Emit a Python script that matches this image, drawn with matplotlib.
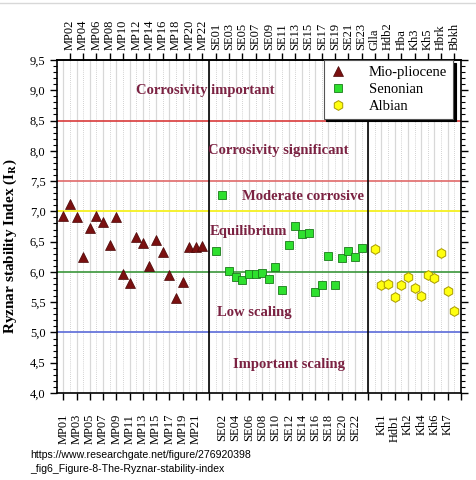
import numpy as np
import matplotlib
matplotlib.use("Agg")
import matplotlib.pyplot as plt
from matplotlib.ticker import MultipleLocator, FuncFormatter
from matplotlib.lines import Line2D

plt.rcParams['font.family'] = ['Liberation Serif', 'DejaVu Serif']
plt.rcParams['mathtext.fontset'] = 'stix'

# --- data ---
mp_labels = ["MP%02d" % i for i in range(1, 23)]
mp_values = [6.92, 7.12, 6.91, 6.25, 6.73, 6.93, 6.82, 6.44, 6.90, 5.97, 5.81,
             6.58, 6.48, 6.10, 6.52, 6.33, 5.95, 5.57, 5.83, 6.41, 6.41, 6.43]

se_labels = ["SE%02d" % i for i in range(1, 24)]
se_values = [6.34, 7.27, 6.02, 5.91, 5.87, 5.97, 5.96, 5.99, 5.88, 6.08, 5.70,
             6.45, 6.76, 6.63, 6.65, 5.66, 5.78, 6.27, 5.79, 6.23, 6.34, 6.25, 6.39]

alb_labels = ["Glla", "Kh1", "Hdb2", "Hdb1", "Hba", "Kh2", "Kh3", "Kh4",
              "Kh5", "Kh6", "Hbrk", "Kh7", "Bbkh"]
alb_values = [6.38, 5.79, 5.80, 5.59, 5.78, 5.92, 5.73, 5.60, 5.95, 5.90,
              6.31, 5.68, 5.36]

limits = [8.5, 7.5, 7.0, 6.0, 5.0]
limit_colors = ["#d93b3b", "#e06a6a", "#f5f020", "#3a963a", "#5a6ad8"]

zones = ["Corrosivity important", "Corrosivity significant", "Moderate corrosive",
         "Equilibrium", "Low scaling", "Important scaling"]

# positions: one empty slot between groups
all_labels = mp_labels + [""] + se_labels + [""] + alb_labels + [""]
pos = np.arange(1, len(all_labels) + 1)
mp_x = pos[:22]
se_x = pos[23:46]
alb_x = pos[47:60]

fig = plt.figure(figsize=(4.77, 4.80), dpi=100)
ax = fig.add_axes([57.3 / 477, 1 - 393 / 480, (461 - 57.3) / 477, 333 / 480])

# vertical grid
for p in pos:
    if p % 2 == 1:
        ax.axvline(p, color="#d8d8d8", lw=0.9, zorder=0)
    else:
        ax.axvline(p, color="#c4c4c4", lw=0.6, ls=(0, (1, 1.5)), zorder=0)

for v, c in zip(limits, limit_colors):
    ax.axhline(v, color=c, lw=1.3 if v == 7.0 else 1.2, zorder=1)

ax.axvline(23, color="black", lw=1.2, zorder=2)
ax.axvline(47, color="black", lw=1.2, zorder=2)

ax.plot(mp_x, mp_values, ls="none", marker="^", ms=6.5, color="#7a1010",
        mec="#4a0808", mew=0.5, label="Mio-pliocene", zorder=4)
ax.plot(se_x, se_values, ls="none", marker="s", ms=5.5, color="#2ee02e",
        mec="#1a7a1a", mew=0.6, label="Senonian", zorder=4)
ax.plot(alb_x, alb_values, ls="none", marker="h", ms=7, color="#ffff10",
        mec="#a89a00", mew=0.7, label="Albian", zorder=4)

txt_col = "#7b2242"
txt_pos = [(22.4, 9.0), (33.5, 8.0), (37.2, 7.25), (29.0, 6.67), (29.8, 5.33), (35.0, 4.47)]
for t, (x, y) in zip(zones, txt_pos):
    ax.text(x, y, t, ha="center", va="center", fontsize=10.5, fontweight="bold",
            color=txt_col, zorder=3)

ax.set_xlim(0.1, 61)
ax.set_ylim(4.0, 9.5)

ax.set_xticks(pos[::2], labels=all_labels[::2], rotation=90, fontsize=9)
ax.tick_params(axis="x", direction="out", length=5, width=1, pad=10)
sec = ax.secondary_xaxis("top")
sec.set_xticks(pos[1::2], labels=all_labels[1::2], rotation=90, fontsize=9)
sec.tick_params(axis="x", direction="out", length=5, width=1, pad=2)

ax.yaxis.set_major_locator(MultipleLocator(0.5))
ax.yaxis.set_minor_locator(MultipleLocator(0.1))
ax.yaxis.set_major_formatter(FuncFormatter(lambda v, p: ("%.1f" % v).replace(".", ",")))
ax.tick_params(axis="y", which="major", direction="out", length=5, width=1,
               labelsize=9, right=True)
ax.tick_params(axis="y", which="minor", direction="out", length=3, width=0.8, right=True)
for s in ax.spines.values():
    s.set_linewidth(1.2)
sec.spines["top"].set_linewidth(1.2)

ax.set_ylabel(r"Ryznar stability Index (I$_\mathbf{R}$)", fontsize=11,
              fontweight="bold")
ax.yaxis.set_label_coords(-0.095, 0.44)

leg = ax.legend(loc="upper right", bbox_to_anchor=(0.98, 1.0), borderaxespad=0,
                fontsize=10.5, frameon=True, fancybox=False,
                shadow={"color": "black", "alpha": 1}, handletextpad=1.5,
                borderpad=0.4, labelspacing=0.25, handlelength=1.2)
leg.get_frame().set_edgecolor("#555555")
leg.get_frame().set_linewidth(0.8)
leg.set_zorder(6)

fig.add_artist(Line2D([0, 1], [1 - 3 / 480, 1 - 3 / 480], color="#d8d8d8", lw=1))
fig.text(30 / 477, 1 - 455 / 480, "https://www.researchgate.net/figure/276920398",
         fontsize=7.6, family="Liberation Sans", va="center")
fig.text(30 / 477, 1 - 469 / 480, "_fig6_Figure-8-The-Ryznar-stability-index",
         fontsize=7.6, family="Liberation Sans", va="center")

fig.savefig("out.png", dpi=100)
